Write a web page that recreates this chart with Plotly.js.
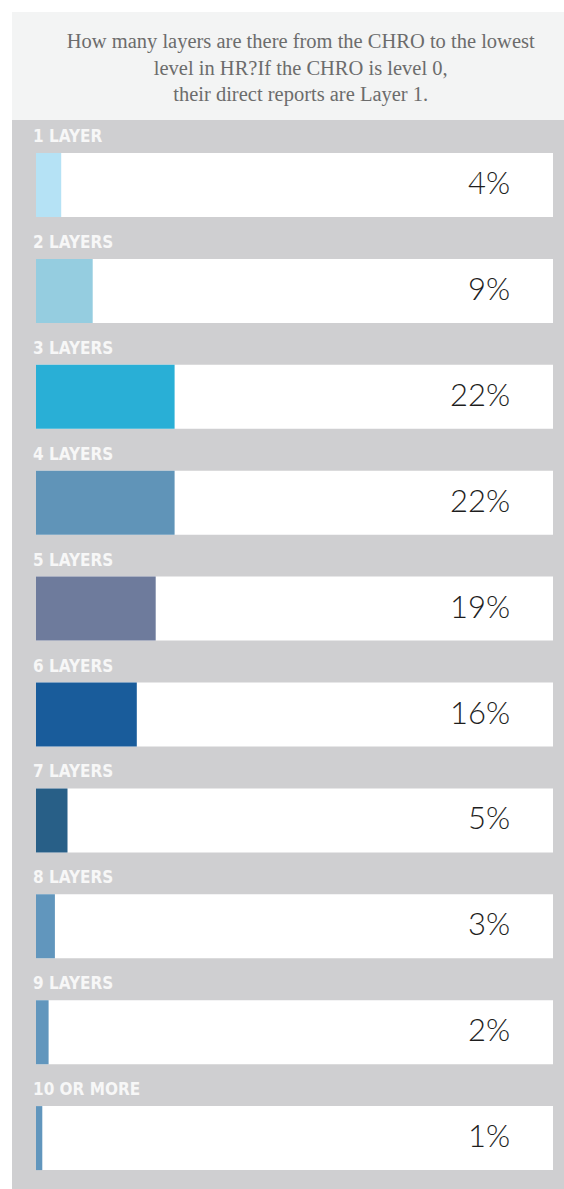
<!DOCTYPE html>
<html>
<head>
<meta charset="utf-8">
<script src="https://cdn.plot.ly/plotly-3.0.1.min.js"></script>
<style>
html,body{margin:0;padding:0;background:#fff;}
#chart{width:564px;height:1189px;}
</style>
</head>
<body>
<div id="chart"></div>
<script>
// ---- data ----
const categories = ["1 LAYER","2 LAYERS","3 LAYERS","4 LAYERS","5 LAYERS","6 LAYERS","7 LAYERS","8 LAYERS","9 LAYERS","10 OR MORE"];
const values = [4, 9, 22, 22, 19, 16, 5, 3, 2, 1];
const valueLabels = ["4%","9%","22%","22%","19%","16%","5%","3%","2%","1%"];
const barColors = ["#b5e2f5","#95cde0","#29afd6","#6094b8","#6e7b9c","#195c9b","#285f87","#6196bd","#6196bd","#6196bd"];
const titleText = "How many layers are there from the CHRO to the lowest<br>level in HR?If the CHRO is level 0,<br>their direct reports are Layer 1.";

// ---- layout geometry ----
const W = 564, H = 1189;
const mL = 12, mR = 0, mT = 120, mB = 0;
const plotW = W - mL - mR, plotH = H - mT - mB;
const pxPerUnit = 6.3;            // px per percent
const barStartPx = 36;            // absolute x where bars begin
const trackEndPx = 553;           // absolute x where white track ends
const xMin = -(barStartPx - mL) / pxPerUnit;
const xMax = xMin + plotW / pxPerUnit;
const trackVal = (trackEndPx - barStartPx) / pxPerUnit;
const band = 105.9, firstCenter = 185;
const yTop = -(firstCenter - mT) / band;
const yBot = yTop + plotH / band;

const track = {
  type: "bar", orientation: "h",
  x: categories.map(() => trackVal), y: categories,
  marker: {color: "#ffffff"}, hoverinfo: "skip", showlegend: false
};
const bars = {
  type: "bar", orientation: "h",
  x: values, y: categories,
  marker: {color: barColors}, hoverinfo: "x+y", showlegend: false
};

const annotations = [];
categories.forEach((c, i) => {
  annotations.push({
    xref: "paper", yref: "y", x: 0, y: c, xanchor: "left", yanchor: "middle",
    xshift: 19, yshift: 49, showarrow: false, text: c,
    font: {family: "DejaVu Sans Condensed, DejaVu Sans, sans-serif", size: 17, color: "#f7f7f7", weight: 700}
  });
  annotations.push({
    xref: "paper", yref: "y", x: 1, y: c, xanchor: "right", yanchor: "middle",
    xshift: -52, yshift: 3, showarrow: false, text: valueLabels[i],
    font: {family: "Lato, sans-serif", size: 31, color: "#1e1e1e", weight: 300}
  });
});

const layout = {
  width: W, height: H,
  margin: {l: mL, r: mR, t: mT, b: mB, pad: 0},
  paper_bgcolor: "#ffffff",
  plot_bgcolor: "#cfcfd1",
  barmode: "overlay",
  bargap: 1 - 64 / band,
  title: {
    text: titleText, x: 295 / W, xanchor: "center", xref: "paper",
    y: 1 - 48 / H, yanchor: "middle", yref: "container",
    font: {family: "Liberation Serif, serif", size: 20.5, color: "#6c6c6c", weight: 400}
  },
  xaxis: {range: [xMin, xMax], showgrid: false, zeroline: false, showticklabels: false, ticks: "", fixedrange: true},
  yaxis: {type: "category", range: [yBot, yTop], showgrid: false, zeroline: false, showticklabels: false, ticks: "", fixedrange: true},
  shapes: [{
    type: "rect", xref: "paper", yref: "paper", layer: "below",
    x0: 0, x1: 1, y0: 1, y1: 1 + (mT - 12) / plotH,
    fillcolor: "#f3f4f4", line: {width: 0}
  }],
  annotations: annotations
};
Plotly.newPlot("chart", [track, bars], layout, {displayModeBar: false, staticPlot: true});
</script>
</body>
</html>
